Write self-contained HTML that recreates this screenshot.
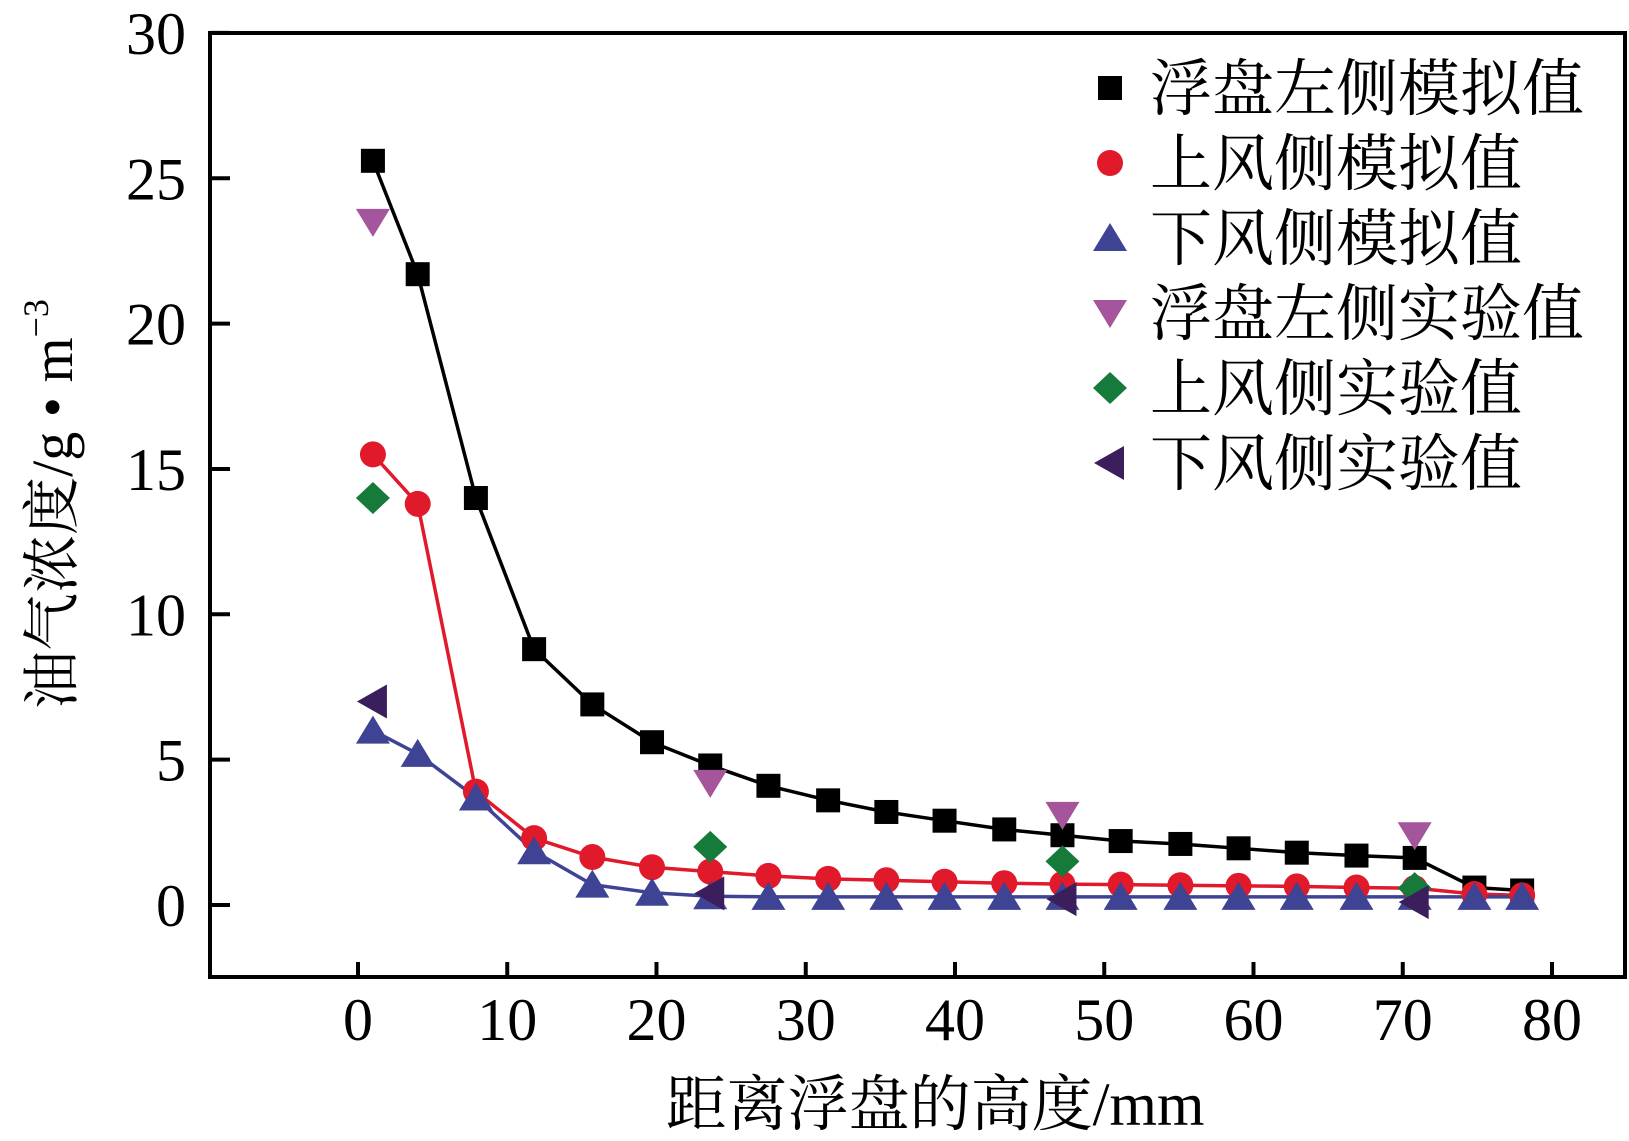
<!DOCTYPE html>
<html><head><meta charset="utf-8"><style>
html,body{margin:0;padding:0;background:#fff;}
svg{display:block;}
text{font-family:"Liberation Serif","Noto Serif CJK SC",serif;fill:#000;}
</style></head><body>
<svg id="chart" width="1629" height="1141" viewBox="0 0 1629 1141">
<rect x="210" y="33" width="1415" height="944" fill="none" stroke="#000" stroke-width="4"/>
<g id="axes"></g>
<g id="series"></g>
<g id="legend"></g>
<text x="935" y="1125" font-size="61" text-anchor="middle">距离浮盘的高度/mm</text>
<text transform="translate(72,504) rotate(-90)" font-size="58" text-anchor="middle">油气浓度/g • m<tspan font-size="36" dy="-24">−3</tspan></text>
</svg>
<script>
const xSim=[1,4,7.9,11.8,15.7,19.7,23.6,27.5,31.5,35.4,39.3,43.3,47.2,51.1,55.1,59,62.9,66.9,70.8,74.8,78];
const leftSim=[25.6,21.7,14,8.8,6.9,5.6,4.8,4.1,3.6,3.2,2.9,2.6,2.4,2.2,2.1,1.95,1.8,1.7,1.62,0.6,0.5];
const upSim=[15.5,13.8,3.9,2.3,1.65,1.3,1.15,1.0,0.9,0.85,0.8,0.75,0.72,0.7,0.68,0.66,0.64,0.6,0.58,0.38,0.33];
const downSim=[6.0,5.2,3.7,1.85,0.7,0.42,0.3,0.28,0.28,0.28,0.28,0.28,0.28,0.28,0.28,0.28,0.28,0.28,0.28,0.28,0.28];
const xExp=[1,23.6,47.2,70.8];
const leftExp=[23.5,4.2,3.1,2.4];
const upExp=[14,2.0,1.5,0.58];
const downExp=[7.0,0.4,0.2,0.1];
const xTicks=[0,10,20,30,40,50,60,70,80];
const yTicks=[0,5,10,15,20,25,30];
const legendLabels=["浮盘左侧模拟值","上风侧模拟值","下风侧模拟值","浮盘左侧实验值","上风侧实验值","下风侧实验值"];

const NS="http://www.w3.org/2000/svg";
const X=v=>358+v*14.925;
const Y=v=>905-v*29.07;
function mk(tag,attrs,parent){const e=document.createElementNS(NS,tag);for(const k in attrs)e.setAttribute(k,attrs[k]);parent.appendChild(e);return e;}
const axes=document.getElementById('axes'),series=document.getElementById('series'),legend=document.getElementById('legend');

xTicks.forEach(t=>{
  const l=mk('line',{x1:X(t),x2:X(t),y1:977,y2:962,stroke:'#000','stroke-width':4},axes);
  
  
  const tx=mk('text',{x:X(t),y:1040,'font-size':60,'text-anchor':'middle'},axes);
  tx.textContent=t;
  
  
});
yTicks.forEach(t=>{
  const l=mk('line',{x1:210,x2:230,y1:Y(t),y2:Y(t),stroke:'#000','stroke-width':4},axes);
  
  
  const tx=mk('text',{x:186,y:Y(t)+21,'font-size':60,'text-anchor':'end'},axes);
  tx.textContent=t;
  
  
});

function marker(type,cx,cy,color,parent,name){
  let e;
  if(type==='square')e=mk('rect',{x:cx-12,y:cy-12,width:24,height:24,fill:color},parent);
  else if(type==='circle')e=mk('circle',{cx:cx,cy:cy,r:13,fill:color},parent);
  else if(type==='up')e=mk('polygon',{points:`${cx},${cy-15} ${cx+17},${cy+13} ${cx-17},${cy+13}`,fill:color},parent);
  else if(type==='down')e=mk('polygon',{points:`${cx},${cy+15} ${cx+17},${cy-13} ${cx-17},${cy-13}`,fill:color},parent);
  else if(type==='diamond')e=mk('polygon',{points:`${cx},${cy-16} ${cx+17},${cy} ${cx},${cy+16} ${cx-17},${cy}`,fill:color},parent);
  else if(type==='left')e=mk('polygon',{points:`${cx-16},${cy} ${cx+14},${cy-17} ${cx+14},${cy+17}`,fill:color},parent);
  
  
}
function lineSeries(xs,ys,color,name){
  const p=mk('polyline',{points:xs.map((x,i)=>X(x)+','+Y(ys[i])).join(' '),fill:'none',stroke:color,'stroke-width':3.5},series);
  
  
}
const C={k:'#000',r:'#e0192b',b:'#3f4394',p:'#a5559b',g:'#167a3a',d:'#3b1f5c'};
lineSeries(xSim,leftSim,C.k,'left-sim-line');
lineSeries(xSim,upSim,C.r,'upwind-sim-line');
lineSeries(xSim,downSim,C.b,'downwind-sim-line');
xSim.forEach((x,i)=>marker('square',X(x),Y(leftSim[i]),C.k,series,'left-sim-point'));
xSim.forEach((x,i)=>marker('circle',X(x),Y(upSim[i]),C.r,series,'upwind-sim-point'));
xSim.forEach((x,i)=>marker('up',X(x),Y(downSim[i]),C.b,series,'downwind-sim-point'));
xExp.forEach((x,i)=>marker('down',X(x),Y(leftExp[i]),C.p,series,'left-exp-point'));
xExp.forEach((x,i)=>marker('diamond',X(x),Y(upExp[i]),C.g,series,'upwind-exp-point'));
xExp.forEach((x,i)=>marker('left',X(x),Y(downExp[i]),C.d,series,'downwind-exp-point'));

const types=['square','circle','up','down','diamond','left'],cols=[C.k,C.r,C.b,C.p,C.g,C.d];
legendLabels.forEach((lab,i)=>{
  const cy=88+i*75;
  marker(types[i],1110,cy,cols[i],legend,'legend-marker');
  const t=mk('text',{x:1150,y:cy+22,'font-size':62},legend);
  t.textContent=lab;
  
  
});
</script>
</body></html>
